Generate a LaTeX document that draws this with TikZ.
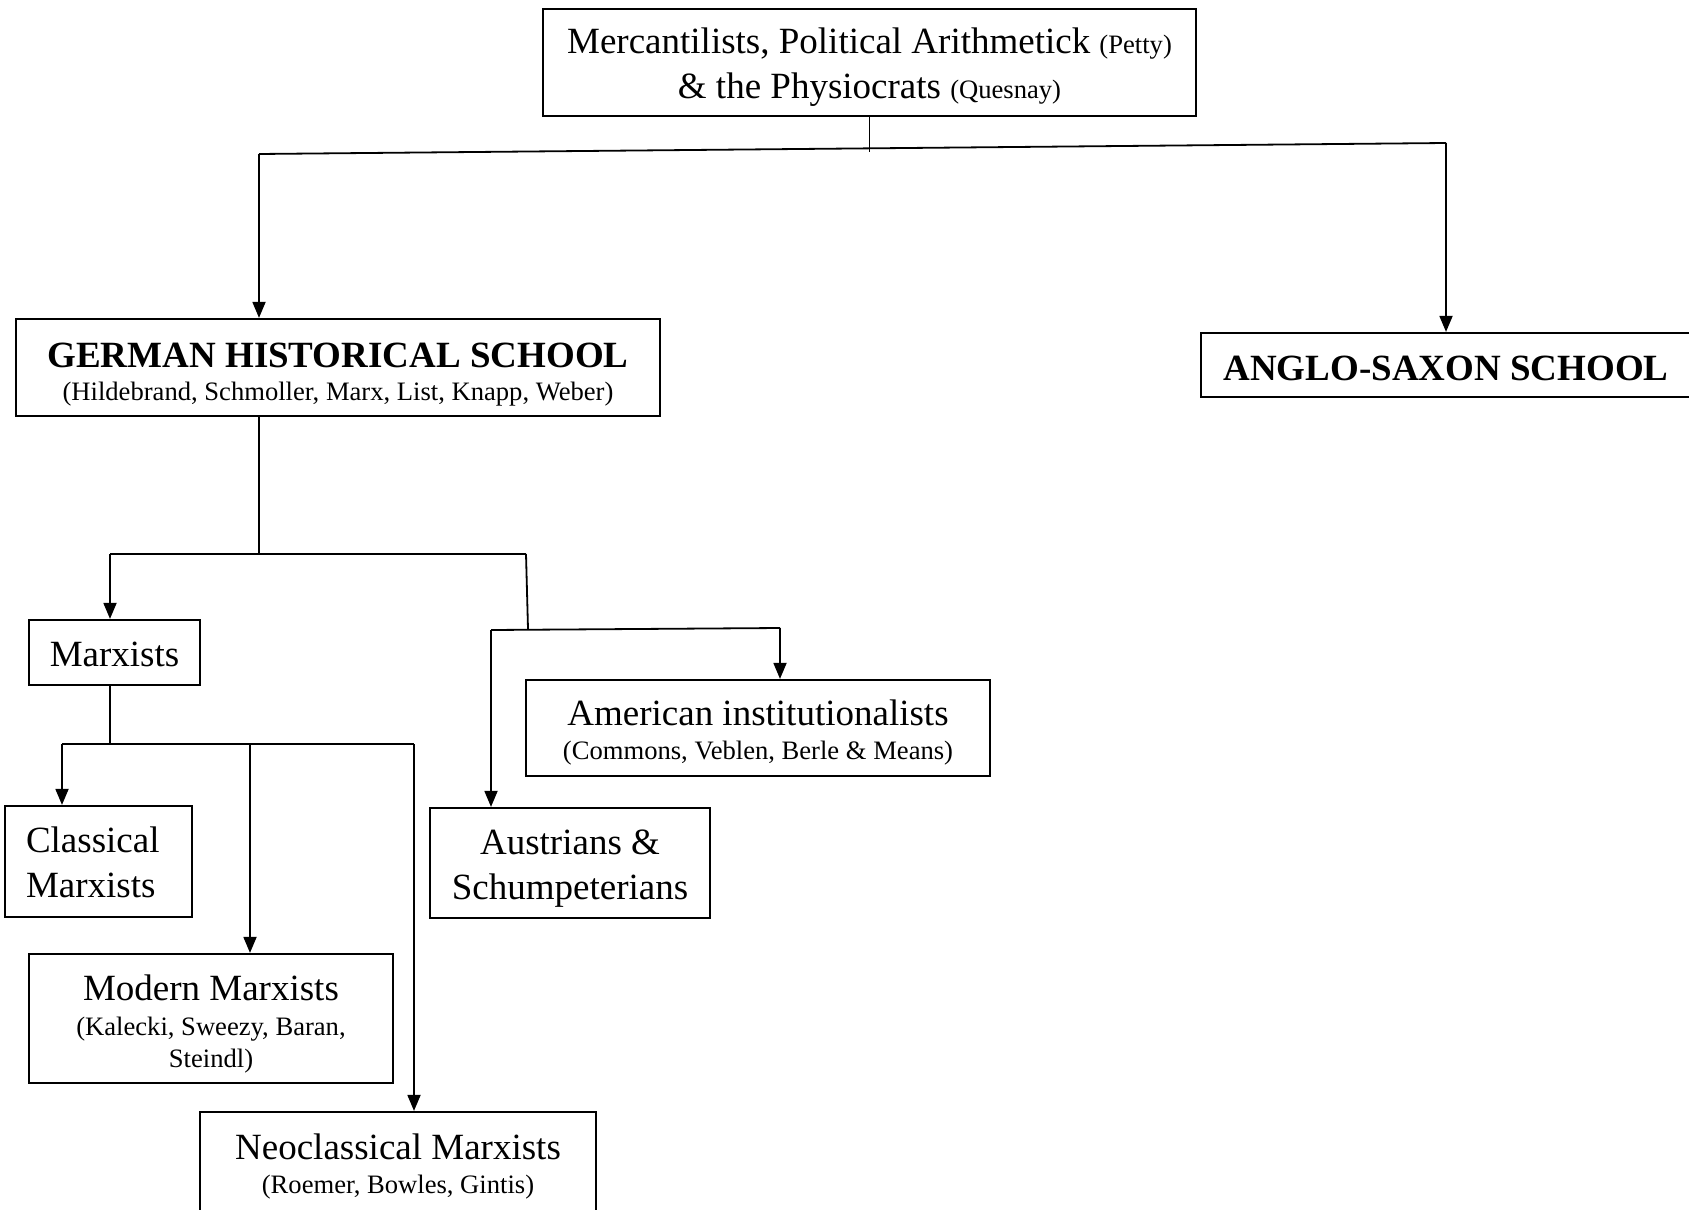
\documentclass[tikz,border=0pt]{standalone}
\usepackage{fontspec}
\setmainfont{Liberation Serif}
\usetikzlibrary{arrows.meta}
\newcommand\mainsz{\fontsize{18.5}{22.5}\selectfont}
\newcommand\subsz{\fontsize{13.3}{16}\selectfont}
\newcommand\dnst[1]{\rule{0pt}{#1}}
\begin{document}
\begin{tikzpicture}[x=0.5pt,y=-0.5pt,
 box/.style={draw, line width=1.1pt, align=center, inner sep=0pt, font=\mainsz},
 conn/.style={line width=0.9pt},
 arr/.style={conn,-{Triangle[length=8pt,width=6.5pt]}}]
\fill[white] (0,0) rectangle (1689,1209);
\useasboundingbox (0,0) rectangle (1689,1209);

\node[box, minimum width=326.5pt, minimum height=53.5pt] (top) at (869.5,62.5)
  {\dnst{17.6pt}Mercantilists, Political Arithmetick {\subsz(Petty)}\\\& the Physiocrats {\subsz(Quesnay)}};
\node[box, minimum width=322pt, minimum height=48.5pt] (ghs) at (338,367.5)
  {\dnst{19pt}\textbf{GERMAN HISTORICAL SCHOOL}\\[-6pt]{\subsz(Hildebrand, Schmoller, Marx, List, Knapp, Weber)}};
\node[box, minimum width=245pt, minimum height=32pt] (anglo) at (1446,365)
  {\dnst{15.8pt}\textbf{ANGLO-SAXON SCHOOL}};
\node[box, minimum width=85.5pt, minimum height=32.5pt] (marx) at (114.5,652.5) {\dnst{14.6pt}Marxists};
\node[box, minimum width=232pt, minimum height=48pt] (amer) at (758,728)
  {\dnst{17pt}American institutionalists\\[-5.5pt]{\subsz(Commons, Veblen, Berle \& Means)}};
\node[box, minimum width=140pt, minimum height=55pt] (aust) at (570,863)
  {\dnst{18pt}Austrians \&\\Schumpeterians};
\node[box, align=left, text width=72.5pt, inner xsep=10.5pt, minimum height=55.5pt] (class) at (98.5,861.5)
  {\dnst{13.6pt}Classical\\Marxists};
\node[box, minimum width=182pt, minimum height=64.5pt] (modern) at (211,1018.5)
  {\dnst{18pt}Modern Marxists\\[-5pt]{\subsz(Kalecki, Sweezy, Baran,}\\[-6.5pt]{\subsz Steindl)}};
\node[box, minimum width=198pt, minimum height=50pt] (neo) at (398,1162)
  {\dnst{17pt}Neoclassical Marxists\\[-5.5pt]{\subsz(Roemer, Bowles, Gintis)}};

% level 1
\coordinate (tj) at (867,152);
\coordinate (hL) at (259,154);
\coordinate (hR) at (1446,143);
\draw[conn] (top.south) -- (top.south |- tj);
\draw[conn] (hL) -- (hR);
\draw[arr] (hL) -- (hL |- ghs.north);
\draw[arr] (hR) -- (anglo.north);

% level 2
\coordinate (g1) at (259,554);
\coordinate (gL) at (110,554);
\coordinate (gR) at (526,554);
\draw[conn] (g1 |- ghs.south) -- (g1);
\draw[conn] (gL) -- (gR);
\draw[arr] (gL) -- (gL |- marx.north);
\coordinate (aj) at (528,629);
\draw[conn] (gR) -- (aj);
\coordinate (aL) at (491,630);
\coordinate (aR) at (780,628);
\draw[conn] (aL) -- (aR);
\draw[arr] (aR) -- (aR |- amer.north);
\draw[arr] (aL) -- (aL |- aust.north);

% level 3
\coordinate (m1) at (110,744);
\coordinate (mL) at (62,744);
\coordinate (mM) at (250,744);
\coordinate (mR) at (414,744);
\draw[conn] (m1 |- marx.south) -- (m1);
\draw[conn] (mL) -- (mR);
\draw[arr] (mL) -- (mL |- class.north);
\draw[arr] (mM) -- (mM |- modern.north);
\draw[arr] (mR) -- (mR |- neo.north);
\end{tikzpicture}
\end{document}
